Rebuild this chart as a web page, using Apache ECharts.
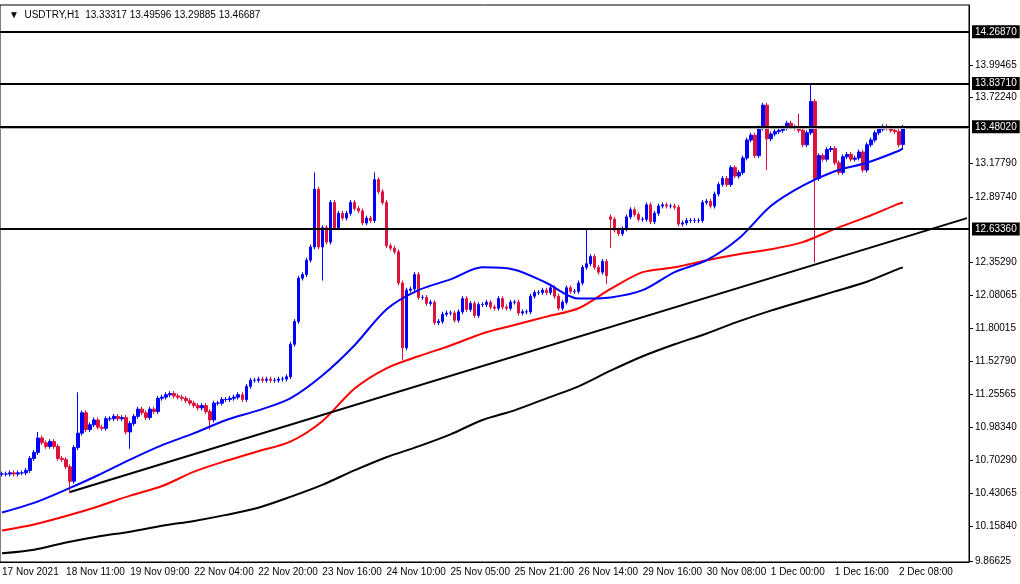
<!DOCTYPE html>
<html>
<head>
<meta charset="utf-8">
<script src="https://cdn.jsdelivr.net/npm/echarts@6/dist/echarts.min.js"></script>
<style>
  html, body { margin: 0; padding: 0; background: #fff; }
  #chart { width: 1020px; height: 584px; }
</style>
</head>
<body>
<div id="chart"></div>
<script>
// hourly closes, 17 Nov 2021 .. 2 Dec 2021 08:00
var closes = [
  10.59,10.59,10.60,10.59,10.60,10.60,10.62,10.72,10.77,10.89,
  10.85,10.82,10.86,10.82,10.72,10.71,10.65,10.53,10.81,10.93,
  11.10,10.96,11.00,11.04,10.98,10.97,11.05,11.05,11.07,11.05,
  11.06,10.94,11.01,11.07,11.13,11.10,11.06,11.13,11.11,11.22,
  11.23,11.25,11.26,11.24,11.23,11.22,11.20,11.18,11.16,11.14,
  11.16,11.11,11.04,11.18,11.18,11.21,11.21,11.22,11.23,11.25,
  11.21,11.32,11.37,11.37,11.38,11.37,11.38,11.37,11.37,11.38,
  11.38,11.40,11.67,11.86,12.22,12.25,12.37,12.48,12.96,12.48,
  12.64,12.52,12.85,12.64,12.76,12.72,12.76,12.85,12.80,12.78,
  12.68,12.72,12.70,13.04,12.94,12.85,12.49,12.47,12.44,12.18,
  11.64,12.12,12.13,12.25,12.06,12.06,12.01,12.02,11.85,11.86,
  11.92,11.93,11.93,11.87,11.94,12.05,11.96,12.01,11.91,12.00,
  12.00,12.02,11.98,11.97,12.05,11.98,11.97,12.02,12.02,11.93,
  11.94,11.94,12.07,12.10,12.10,12.12,12.10,12.14,12.07,11.97,
  12.02,12.14,12.11,12.11,12.18,12.31,12.34,12.40,12.31,12.27,
  12.36,12.24,12.71,12.62,12.59,12.63,12.73,12.79,12.75,12.71,
  12.71,12.83,12.69,12.76,12.82,12.83,12.82,12.82,12.81,12.67,
  12.68,12.70,12.70,12.70,12.70,12.85,12.86,12.82,12.92,13.00,
  13.05,13.00,13.14,13.07,13.10,13.22,13.37,13.41,13.24,13.47,
  13.66,13.38,13.42,13.44,13.45,13.47,13.51,13.48,13.47,13.45,
  13.33,13.43,13.69,13.05,13.24,13.21,13.29,13.30,13.18,13.10,
  13.23,13.25,13.21,13.22,13.27,13.12,13.33,13.37,13.43,13.46,
  13.48,13.47,13.45,13.44,13.33,13.46687
];
var openFix = { 0: 10.59, 152: 12.73, 225: 13.33317 };
var highFix = { 9: 10.94, 19: 11.27, 78: 13.10, 93: 13.10, 146: 12.63, 152: 12.75, 199: 13.59, 202: 13.84, 225: 13.49596 };
var lowFix  = { 17: 10.43, 32: 10.80, 52: 10.96, 80: 12.20, 100: 11.54, 151: 12.17, 152: 12.47, 191: 13.12, 203: 12.35, 225: 13.29885 };

// moving averages, read every 8 bars
var maIdx  = [0,8,16,24,32,40,48,56,64,72,80,88,96,104,112,120,128,136,144,152,160,168,176,184,192,200,208,216,224,225];
var maBlue = [10.27,10.35,10.46,10.58,10.71,10.83,10.93,11.04,11.12,11.22,11.41,11.66,11.96,12.12,12.21,12.31,12.29,12.18,12.05,12.06,12.12,12.27,12.37,12.55,12.82,12.99,13.11,13.18,13.28,13.30];
var maRed  = [10.12,10.17,10.24,10.32,10.41,10.49,10.61,10.70,10.78,10.86,11.03,11.30,11.47,11.57,11.66,11.76,11.83,11.90,11.97,12.13,12.27,12.31,12.37,12.42,12.46,12.52,12.63,12.73,12.84,12.85];
var maBlack= [9.93,9.96,10.02,10.07,10.11,10.16,10.20,10.25,10.31,10.40,10.50,10.62,10.73,10.82,10.92,11.04,11.12,11.22,11.32,11.45,11.57,11.67,11.76,11.86,11.95,12.03,12.11,12.19,12.30,12.31];

var trendIdx = [17, 241];
var trendVal = [10.44, 12.72];

var levels = [14.2687, 13.8371, 13.4802, 12.6336];
var lastPrice = 13.46687;

var timeLabels = ['17 Nov 2021','18 Nov 11:00','19 Nov 09:00','22 Nov 04:00','22 Nov 20:00','23 Nov 16:00','24 Nov 10:00','25 Nov 05:00','25 Nov 21:00','26 Nov 14:00','29 Nov 16:00','30 Nov 08:00','1 Dec 00:00','1 Dec 16:00','2 Dec 08:00'];
var priceTicks = [9.86625,10.15840,10.43065,10.70290,10.98340,11.25565,11.52790,11.80015,12.08065,12.35290,12.89740,13.17790,13.72240,13.99465];

var FONT = 'Liberation Sans';
var nCat = 242;
var cats = [];
for (var i = 0; i < nCat; i++) {
    cats.push(i % 16 === 0 && timeLabels[i / 16] ? timeLabels[i / 16] : 'b' + i);
}

var candles = [];
for (var i = 0; i < closes.length; i++) {
    var o = openFix[i] !== undefined ? openFix[i] : closes[i - 1];
    var c = closes[i];
    var h = highFix[i] !== undefined ? highFix[i] : Math.max(o, c) + 0.02;
    var l = lowFix[i] !== undefined ? lowFix[i] : Math.min(o, c) - 0.02;
    candles.push([o, c, l, h]);
}

function sparse(idx, vals) {
    var out = new Array(nCat).fill(null);
    idx.forEach(function (k, j) { out[k] = vals[j]; });
    return out;
}

function maSeries(vals, color) {
    return {
        type: 'line', data: sparse(maIdx, vals), connectNulls: true, smooth: 0.3,
        showSymbol: false, silent: true,
        lineStyle: { color: color, width: 2 }
    };
}

var chart = echarts.init(document.getElementById('chart'));
chart.setOption({
    animation: false,
    title: {
        text: '▼  USDTRY,H1  13.33317 13.49596 13.29885 13.46687',
        left: 4, top: 5,
        textStyle: { fontFamily: FONT, fontSize: 10, fontWeight: 'normal', color: '#000' }
    },
    grid: { left: 0, right: 51, top: 5, bottom: 22, show: true, borderColor: '#000', borderWidth: 1, outerBoundsMode: 'none' },
    xAxis: {
        type: 'category', data: cats, boundaryGap: true,
        axisLine: { lineStyle: { color: '#000' } },
        axisTick: { alignWithLabel: true, interval: function (i) { return i % 16 === 0; }, length: 4, lineStyle: { color: '#000' } },
        axisLabel: {
            interval: function (i) { return i % 16 === 0 && i <= 224; },
            showMinLabel: true, hideOverlap: false,
            align: 'left', margin: 5, color: '#000', fontFamily: FONT, fontSize: 10
        },
        splitLine: { show: false }
    },
    yAxis: {
        type: 'value', position: 'right', min: 9.8579, max: 14.4934, scale: true,
        axisLine: { show: true, lineStyle: { color: '#000' } },
        axisTick: { show: true, customValues: priceTicks, length: 4, lineStyle: { color: '#000' } },
        axisLabel: {
            customValues: priceTicks, margin: 6, color: '#000', fontFamily: FONT, fontSize: 10,
            formatter: function (v) { return v.toFixed(5); }
        },
        splitLine: { show: false }
    },
    series: [
        maSeries(maBlack, '#000000'),
        maSeries(maRed, '#ff0000'),
        maSeries(maBlue, '#0000ff'),
        {
            type: 'line', data: sparse(trendIdx, trendVal), connectNulls: true,
            showSymbol: false, silent: true, lineStyle: { color: '#000', width: 2 }
        },
        {
            type: 'candlestick', data: candles, barWidth: 3,
            itemStyle: { color: '#0000ff', color0: '#dc143c', borderColor: '#0000ff', borderColor0: '#dc143c', borderWidth: 1 },
            markLine: {
                symbol: 'none', silent: true, animation: false,
                data: levels.map(function (v) { return { yAxis: v, name: v.toFixed(5) }; }).concat([{
                    yAxis: lastPrice, lineStyle: { color: '#b0b0b0', width: 1 }, label: { show: false }
                }]),
                lineStyle: { color: '#000', width: 2, type: 'solid' },
                label: {
                    position: 'end', distance: 3, formatter: function (p) { return p.name; },
                    backgroundColor: '#000', color: '#fff', padding: [2, 3, 1, 3],
                    fontFamily: FONT, fontSize: 10
                }
            }
        }
    ]
});
</script>
</body>
</html>
